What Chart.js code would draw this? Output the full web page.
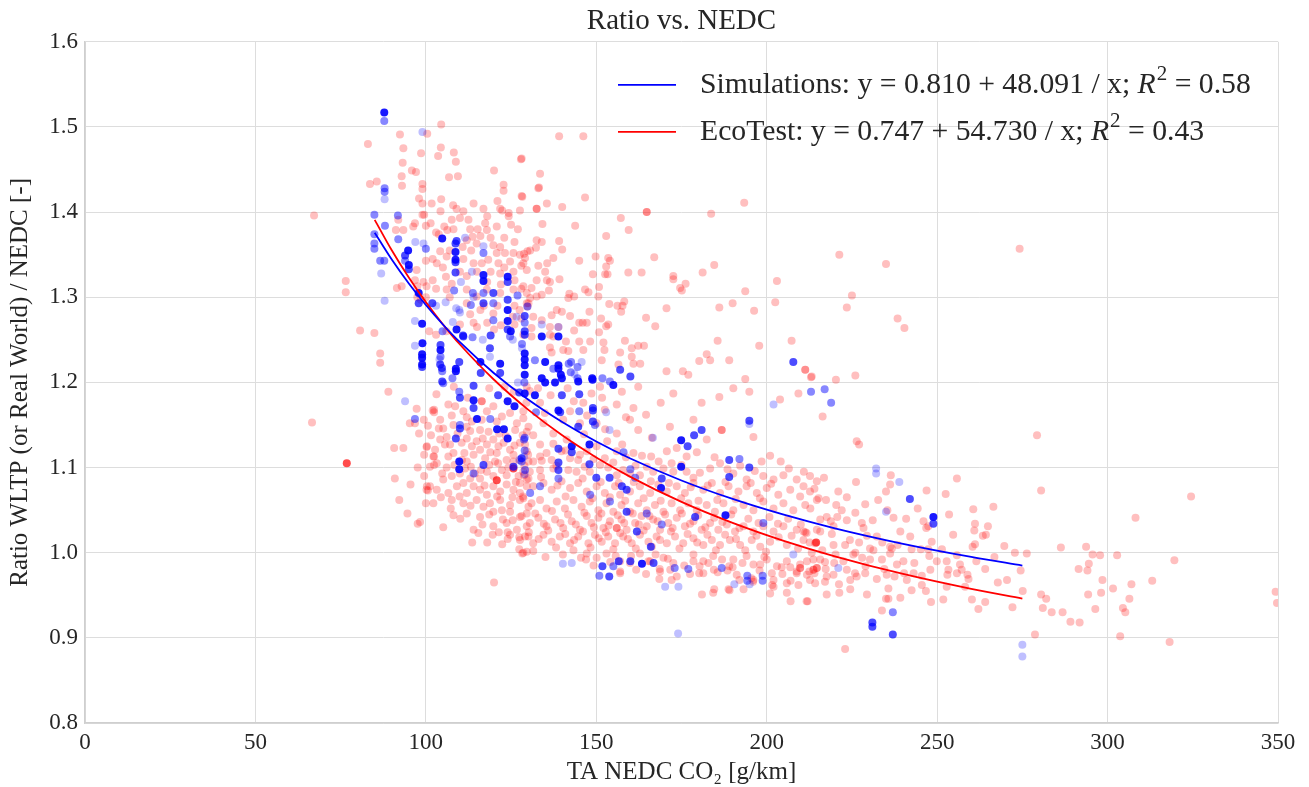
<!DOCTYPE html>
<html><head><meta charset="utf-8">
<script src="https://cdn.jsdelivr.net/npm/chart.js@4.4.1/dist/chart.umd.min.js"></script>
<style>html,body{margin:0;padding:0;background:#fff}canvas{display:block}</style>
</head><body>
<canvas id="c" width="1309" height="787"></canvas>
<script>
const titleText = 'Ratio vs. NEDC';
const xTitle = 'TA NEDC CO\u2082 [g/km]';
const yTitle = 'Ratio WLTP (or Real World) / NEDC [-]';
const xTicks = [0, 50, 100, 150, 200, 250, 300, 350];
const yTicks = [0.8, 0.9, 1.0, 1.1, 1.2, 1.3, 1.4, 1.5, 1.6];

// fitted curves
const fitX    = [85, 90, 95, 100, 105, 110, 120, 130, 140, 150, 160, 175, 190, 205, 220, 240, 260, 275];
const simFitY = [1.3758, 1.3443, 1.3162, 1.2909, 1.2680, 1.2472, 1.2108, 1.1799, 1.1535, 1.1306, 1.1106, 1.0848, 1.0631, 1.0446, 1.0286, 1.0104, 0.9950, 0.9849];
const ecoFitY = [1.3909, 1.3551, 1.3231, 1.2943, 1.2682, 1.2445, 1.2031, 1.1680, 1.1379, 1.1119, 1.0891, 1.0597, 1.0351, 1.0140, 0.9958, 0.9750, 0.9575, 0.9460];

const legendItems = [
  { pre: 'Simulations: y = 0.810 + 48.091 / x; ', r2: '0.58', color: '#0000ff' },
  { pre: 'EcoTest: y = 0.747 + 54.730 / x; ', r2: '0.43', color: '#ff0000' }
];

// Simulations: [x, y, number of overlapping cars]
const simPoints = [
[87.8,1.517,4],[87.8,1.507,2],[99,1.494,1],
[84.9,1.397,2],[91.8,1.396,2],[87.9,1.428,2],[87.9,1.424,2],[87.9,1.415,1],[88,1.384,2],[84.9,1.374,2],[84.9,1.363,2],[84.9,1.357,2],[91.9,1.368,2],[94.8,1.355,4],[93.9,1.349,3],[93.9,1.343,2],[95,1.338,4],[95,1.333,3],[86.6,1.343,2],[86.9,1.328,1],[87.8,1.343,2],[96.9,1.365,1],[99.3,1.363,1],[100,1.357,2],[104.8,1.369,4],[109,1.366,3],[108.7,1.363,3],[108.7,1.353,4],[108.7,1.344,4],[108.7,1.341,3],[108.7,1.329,3],[111.5,1.37,1],[113.5,1.33,1],[116.9,1.36,1],[116.9,1.352,2],[116.9,1.326,4],[116.9,1.319,4],[116.9,1.305,2],[116.9,1.293,3],[113.8,1.305,2],[113.2,1.291,2],[110.3,1.318,1],[108.3,1.308,2],[108.9,1.287,1],[110,1.282,1],[124,1.324,4],[124,1.318,3],[124,1.297,3],[124,1.285,4],[124,1.272,4],[124,1.262,3],[124.7,1.254,2],[119.8,1.305,3],[119.8,1.293,2],[119.8,1.273,2],[126.9,1.302,2],[129.8,1.289,2],[126.6,1.277,1],[97.9,1.305,4],[97.9,1.293,3],[98.9,1.269,4],[101.9,1.293,3],[103,1.29,1],[104.9,1.26,2],[107.9,1.271,1],[109.8,1.285,1],[111,1.254,3],[114,1.30,1],[96.8,1.272,1],[87.9,1.296,1],[105.8,1.294,1],
[99,1.246,4],[96.8,1.243,1],[98.9,1.233,4],[98.9,1.229,4],[98.9,1.221,4],[98.9,1.218,3],[104.3,1.244,3],[104.3,1.238,4],[104.3,1.23,2],[104.2,1.221,3],[104.7,1.217,3],[104.8,1.213,2],[104,1.227,1],[104.8,1.201,3],[105.1,1.199,2],[107.8,1.205,2],[108.8,1.216,4],[108.8,1.213,4],[109.8,1.224,3],[109,1.262,4],[110.9,1.255,3],[113.7,1.253,2],[116.7,1.25,1],[119,1.255,3],[116,1.224,4],[116.1,1.211,3],[118.8,1.24,3],[118.8,1.23,1],[121.8,1.222,4],[121.8,1.211,3],[124.9,1.26,4],[125.5,1.25,1],[128.2,1.245,2],[128.2,1.24,1],[127,1.2,1],[128.9,1.2,2],[127.4,1.188,3],[109.8,1.189,2],[110,1.182,3],[114,1.196,3],[114,1.179,4],[114,1.17,3],[121.2,1.185,3],[124,1.178,4],[126,1.172,4],[115,1.157,4],[110,1.146,3],[110,1.15,2],[118.9,1.157,2],[120.9,1.145,4],[122.9,1.145,4],[124,1.134,4],[108.8,1.134,3],[109.8,1.107,4],[109.8,1.098,4],[116.9,1.103,3],[114,1.093,2],[93.9,1.178,1],[96.8,1.157,2],[125.7,1.101,3],[127.4,1.109,1],[129,1.135,2],[129,1.12,2],[129,1.092,1],
[129,1.278,3],[129,1.27,2],[129,1.26,3],[129,1.256,3],[134,1.254,4],[138.9,1.254,4],[138.9,1.265,1],[134,1.268,1],[129,1.234,4],[129,1.227,4],[129,1.22,4],[129,1.209,4],[132,1.226,2],[135,1.224,4],[138.9,1.22,4],[138.9,1.216,4],[137.4,1.216,2],[139.6,1.209,4],[141.9,1.222,2],[142.6,1.224,2],[144.5,1.218,2],[145.7,1.224,1],[142.5,1.212,2],[143.6,1.21,1],[134,1.205,4],[139.9,1.205,4],[144.5,1.205,2],[148.8,1.205,4],[151.8,1.205,2],[157,1.215,3],[160,1.207,3],
[135,1.2,4],[137.9,1.2,4],[144.7,1.201,4],[148.9,1.203,4],[154,1.201,2],[155,1.197,4],[129,1.187,4],[132,1.185,4],[139.9,1.185,3],[145,1.186,3],[138.9,1.167,4],[139.4,1.165,3],[149,1.17,3],[149,1.167,3],[132.3,1.165,2],[145,1.166,2],[149,1.154,3],[149.6,1.15,2],[144.7,1.148,3],[152.9,1.165,1],[153.9,1.144,1],[142.8,1.125,4],[142.8,1.118,3],[138.9,1.122,3],[148,1.127,4],[128.1,1.111,3],[128.8,1.133,2],[128.1,1.107,2],[138.9,1.106,3],[138.9,1.097,3],[138.9,1.087,2],[148,1.104,3],[150,1.088,3],[153.9,1.088,3],[157.5,1.078,3],[158.9,1.074,3],[158,1.118,2],[160,1.098,2],[161.4,1.088,2],[166.6,1.135,1],[174.9,1.132,4],[176.8,1.125,3],[174.9,1.101,4],[169.2,1.087,3],[169,1.076,4],[178.7,1.138,3],[180.9,1.144,3],[194.9,1.155,3],[194.9,1.151,1],[189,1.109,3],[192,1.11,2],[194.9,1.1,3],[189,1.089,3],[187.9,1.044,4],[179,1.042,3],[199,1.035,2],[202,1.174,1],[154,1.06,2],[158.9,1.048,3],[161.9,1.025,3],[164.8,1.046,2],[169.2,1.033,2],[166,1.007,3],[166.8,0.988,3],[160,0.99,3],[155,0.984,2],[153.8,0.972,3],[142.8,0.988,1],[174.1,0.96,1],[177,0.981,2],[186.8,0.982,2],[195,0.963,1],[198.8,0.973,2],[198.8,0.967,2],[207.8,0.998,1],[148.2,1.068,2],[133.5,1.078,2],[128.8,1.113,1],[129.1,1.097,2],[130.6,1.07,2],
[213,1.189,2],[217,1.192,2],[218.9,1.176,2],[232.1,1.099,1],[232.1,1.093,1],[238.9,1.083,1],[242,1.063,3],[235,1.048,1],[248.9,1.042,4],[248.9,1.034,3],[221,0.982,1],[237,0.93,2],[231,0.918,3],[231,0.913,3],[237,0.904,3],[275,0.892,1],[275,0.878,1],[207.8,1.224,3],
[140.2,0.987,1],[150.9,0.973,2],[151.8,0.984,3],[156.6,0.99,3],[163.4,0.987,4],[173,0.982,2],[170.2,0.96,1],[174,0.905,1],[190.5,0.963,1],[194.3,0.973,2],[194.3,0.967,2]
];

// EcoTest, low NEDC values (x below ~130)
const ecoLeft = [
[104.5,1.503],[100.4,1.492],[92.4,1.491],[83,1.48],[93.4,1.475],[104.4,1.476],[103.6,1.466],[108.2,1.47],[108.8,1.459],[93.2,1.458],[98.6,1.469],[95.9,1.449],[97.1,1.447],[92.9,1.442],[93,1.431],[83.6,1.433],[85.6,1.436],[99,1.433],[99,1.427],[106.8,1.441],[109.4,1.442],[98,1.416],[104.5,1.415],[99,1.41],[99,1.397],[101.7,1.41],[108,1.408],[109,1.404],[104.3,1.401],[67.2,1.396],[120,1.449],[127.9,1.462],[122.8,1.432],[122.8,1.425],[128.3,1.418],[121,1.413],[121.8,1.404],[122.4,1.402],[124.3,1.399],[124.3,1.395],[127.6,1.402],[116.9,1.404],
[96.8,1.387],[96.3,1.383],[99.5,1.397],[100,1.384],[91.9,1.391],[91.2,1.379],[93.4,1.379],[101.4,1.387],[103,1.376],[103.8,1.374],[105.4,1.383],[106.3,1.379],[108.1,1.38],[107.6,1.391],[110,1.393],[112.5,1.391],[113,1.38],[115.2,1.38],[117.4,1.387],[117.9,1.379],[120.8,1.383],[113.7,1.371],[112,1.367],[110.8,1.359],[113.3,1.355],[114.9,1.363],[119.8,1.361],[121.8,1.359],[120.8,1.352],[123.2,1.352],[125.7,1.352],[127.6,1.35],[129.8,1.354],[116.4,1.34],[118.3,1.344],[121.3,1.34],[124.7,1.342],[128.6,1.34],[121.8,1.328],[125.7,1.33],[129.6,1.332],[104.2,1.354],[106.1,1.348],[103.2,1.34],[97.3,1.332],[96.8,1.32],[99.3,1.318],[100.2,1.313],[97.5,1.313],[91.5,1.311],[92.9,1.313],[105.9,1.324],[107.6,1.316],[106.1,1.309],[112,1.309],[114.9,1.301],[117.9,1.309],[121.8,1.305],[125.7,1.309],[129.6,1.305],[129.6,1.293],[112,1.293],[116,1.285],[119.8,1.281],[125.5,1.277],[127.5,1.285],[110,1.268],[114,1.27],[118,1.27],[122,1.267],[126,1.268],[76.5,1.319],[76.5,1.306],[97.5,1.30],[98.5,1.297],[101,1.26],[103,1.256],[106,1.26],
[118,1.318],[122,1.315],[126,1.32],[128,1.31],[115,1.33],[119,1.33],[123,1.335],[111,1.345],[114,1.34],[112,1.325],[117,1.29],[121,1.29],[126,1.29],[128,1.275],[113,1.28],[115,1.265],[120,1.262],[107,1.30],[103,1.31],[100,1.30],[102,1.32],[105,1.335],[102,1.345],[100,1.343],[107,1.355],[110,1.33],[123,1.37],[126,1.365],[127,1.38],[125,1.385],[119,1.37],[116,1.372],[118,1.395],[111,1.401],[114,1.41],
[80.7,1.261],[84.9,1.258],[86.6,1.234],[86.6,1.223],[89,1.189],[66.6,1.153],[76.8,1.105,3],[97.3,1.169],[102,1.167],[102.4,1.165],[95.3,1.152],[96.8,1.152],[98,1.14],[99.4,1.156],[100.6,1.149],[90.7,1.123],[93.4,1.123],[100.2,1.124],[99.5,1.115],[102.4,1.113],[102.4,1.103],[90.9,1.087],[100.3,1.078],[100.6,1.073],[92.2,1.062],[100,1.058],[94.6,1.046],[98.3,1.036],[97.6,1.034],[115.4,1.023],[119.6,1.021],[124,1.024],[124,1.016],[127.4,1.018],[127.4,1.004],[128.3,0.999],[120,0.965],
[102.4,1.168],[104.2,1.156],[105.1,1.146],[106.6,1.174],[107.6,1.161],[108.6,1.172],[111,1.166],[112,1.159],[113.5,1.154],[112,1.148],[116.4,1.178,2],[116.4,1.156],[117.9,1.166],[119.8,1.172],[120.8,1.154],[122.3,1.16],[124.7,1.164],[126.7,1.152],[128.6,1.158],[130.1,1.148],[115.9,1.144],[118.4,1.142],[126.2,1.144],[108.1,1.15],
[100.3,1.125],[102.2,1.113],[102.7,1.121],[104.2,1.133],[106.1,1.136],[107.1,1.127],[106.6,1.113],[108.1,1.117],[110.5,1.129],[112,1.134],[113.5,1.125],[114.9,1.131],[115.9,1.121],[114,1.115],[117.9,1.127],[119.8,1.133],[120.8,1.117],[121.3,1.125],[122.8,1.129],[124.7,1.121],[125.7,1.115],[127.6,1.129],[129.6,1.119],[117.4,1.111],[120.3,1.107],[123.7,1.109],[125.7,1.107],[127.6,1.109],[130.1,1.107],[112,1.107],
[101.2,1.101],[103.2,1.105],[106.1,1.1],[107.6,1.09],[110,1.093],[111.5,1.099],[113,1.087],[114.4,1.093],[115.9,1.087],[117.9,1.095],[119.8,1.09],[120.8,1.085,3],[122.3,1.097],[123.7,1.091],[125.7,1.099,3],[127.2,1.09],[128.6,1.095],[130.1,1.087],[101.2,1.078],[103.2,1.074],[105.1,1.086],[106.6,1.07],[109.1,1.078],[111,1.082],[112,1.07],[114,1.078],[115.9,1.074],[117.9,1.068],[119.8,1.078],[121.8,1.072],[123.7,1.08],[125.7,1.074],[127.6,1.07],[129.6,1.078],[100.2,1.074],
[102.2,1.058],[107.6,1.062],[111,1.058],[114.9,1.062],[116.9,1.054],[118.8,1.058],[121.8,1.062],[124.7,1.056],[127.6,1.062],[130.1,1.054],[108.1,1.044],[112,1.046],[115.9,1.042],[119.8,1.048],[122.3,1.05],[124.7,1.048],[127.6,1.042],[129.6,1.046],[114,1.027],[119.8,1.031],[123.7,1.035],[126.7,1.027],[129.6,1.031],[124.7,1.021],[127.6,1.015],[130.1,1.019],[129.6,1.001],
[101.5,1.138],[103.8,1.146],[105.6,1.127],[109.3,1.14],[111.3,1.117],[113,1.143],[116.7,1.134],[118.9,1.118],[121.5,1.14],[123.5,1.137],[126,1.126],[128.4,1.138],[104.8,1.093],[108.4,1.103],[110.6,1.109],[113.2,1.101],[116.2,1.097],[118.6,1.103],[121.2,1.105],[124.2,1.1],[126.4,1.083],[128.9,1.102],[104.4,1.065],[107.3,1.052],[109.9,1.066],[113.1,1.055],[117.2,1.079],[118.6,1.045],[120.9,1.066],[122.6,1.039],[125.4,1.065],[128.5,1.066],[110.1,1.04],[116.6,1.033],[121.4,1.024],[125.5,1.038],[113.6,1.012],[118,1.012],[122.4,1.01],[105.1,1.03],[99.5,1.09],[97.6,1.1],[95.5,1.08],[103.1,1.186],[108.2,1.195],[112.3,1.182],[118.6,1.193],[123.1,1.195],[125.8,1.189],[130.5,1.19],[129.5,1.176]
];

// EcoTest, upper part of the cloud (x ~128-215, y above ~1.2)
const ecoUpper = [
[139.1,1.489],[146.2,1.489],[128.1,1.463],[133.5,1.445],[133.2,1.429],
[133,1.428],[146.7,1.417],[128.1,1.419],[135.5,1.41],[132.5,1.404,2],[140,1.406],[164.8,1.4,2],[193.4,1.411],[183.7,1.398],[157.2,1.393],[134.2,1.386],[143.8,1.384],[159.5,1.379],[152.9,1.372],[132.5,1.367],[134,1.365],[139.1,1.366],[140,1.356],[132.3,1.358],[130.6,1.355],[128.8,1.351],[129.1,1.346],[137.4,1.346],[145,1.343],[149.8,1.348],[153.5,1.346],[154,1.343],[167,1.347],[184.6,1.338],[133,1.337],[135.6,1.34],[128,1.337],[132.5,1.32],[135,1.33],[152.9,1.336],[152.6,1.327],[153.3,1.327],[149,1.327],[159.4,1.329],[163.3,1.329],[172.6,1.325],[172.6,1.321],[181.2,1.329],[176.2,1.316],[174.6,1.311],[175.1,1.308],[203,1.319],[193.7,1.307],[135.5,1.32],[136.4,1.318],[139.2,1.321],[128.6,1.313],[131,1.311],[136.1,1.308],[146.7,1.309],[147.7,1.306],[150.8,1.312],[134,1.303],[132.5,1.301],[130.6,1.299],[130.1,1.293],[129.8,1.289],[142.1,1.304],[143.5,1.301],[141.8,1.299],[150.6,1.301],[158.2,1.295],[157.7,1.29],[156.2,1.29],[157.3,1.283],[153.8,1.292],[170.6,1.287],[186.1,1.288],[190,1.293],[196.3,1.284],[202.5,1.294],[138.4,1.285],[139.9,1.283],[136.9,1.279],[142.3,1.278],[148,1.283],[131.5,1.277],[134,1.273],[151.4,1.275],[145,1.27],[146,1.27],[147.2,1.27],[153.5,1.268],[152.9,1.266],[164.6,1.276],[167.3,1.266],[131,1.264],[136.4,1.265],[138.9,1.265],[143.5,1.261],[150.8,1.259],[128.6,1.256],[131,1.254],[136.4,1.256],[137.4,1.254],[141.1,1.248],[145,1.248],[148.2,1.248],[152.1,1.247],[158.4,1.249],[160.4,1.24],[162.3,1.243],[164,1.243],[185.6,1.249],[197.8,1.243],[207.3,1.249],[136.4,1.241],[136.9,1.235],[140.3,1.238],[141.8,1.237],[146.2,1.238],[152.4,1.238],[157,1.235],[160.4,1.23],[160.9,1.222],[162.9,1.222],[182.4,1.233],[183.4,1.226],[180.2,1.225],[189,1.226],[151.6,1.226],[156.5,1.221],[170.6,1.213],[175.4,1.213],[177,1.209],[211.3,1.215],[213.2,1.207],[193.7,1.204]
];

// EcoTest, dense band (x ~128-215, y below ~1.2)
const ecoBand = [
[148.6,1.187],[156,1.174],[158.7,1.159],[162.3,1.195],[172.6,1.187],[180.9,1.176],[186.1,1.183],[190.2,1.193],[194.9,1.189],[209.3,1.187],[128.6,1.166],[134.9,1.164],[142.3,1.166],[146.2,1.176],[152.5,1.168],[133.5,1.176],[129.6,1.195],[151.1,1.195],[203.9,1.18],
[162.3,1.144],[166.3,1.135],[186.8,1.144,2],[153.2,1.131],[129.6,1.142],[131.5,1.138],[133.5,1.127],[129.1,1.127],[137.4,1.14],[141.3,1.133],[150.1,1.152],[156,1.14],[159.9,1.156],[170.7,1.119],[173.6,1.123],[171.6,1.148],[178.5,1.156],[182.4,1.133],[196.1,1.136],[201,1.114],[145.2,1.152],[134.5,1.152],[140.3,1.156],
[176.5,1.113],[172.1,1.105],[166.1,1.113],[156,1.119],[160.9,1.117],[158.7,1.112],[204.1,1.107],[198.5,1.107],[192.2,1.102],[186.3,1.105],[183.4,1.099],[180.4,1.094],[190.2,1.093],[194.1,1.086],[130,1.115],[133.5,1.113],[135.4,1.117],[136.9,1.109],[131.5,1.107],[142.3,1.111],[139.8,1.119],[145.2,1.115],[147.2,1.119],[150.1,1.125],[152.5,1.111],[144.7,1.109],[137.4,1.099],[133.5,1.097],[130.5,1.095],[128.8,1.091],[141.8,1.097],[144.2,1.095],[148.1,1.095],[151.1,1.103],[153.5,1.1],[156,1.091],[157.9,1.097],[159.9,1.093],[162.8,1.091],[164.8,1.101],[166.7,1.095],[169.7,1.099],[172.6,1.095],[176.5,1.095],[178.5,1.088],[199,1.09],[202,1.086],[204.9,1.091],[208.8,1.086],[212.7,1.09],[214.7,1.084],[210.8,1.078],
[127.6,1.082],[129.6,1.086],[131.5,1.078],[134.5,1.082],[136.9,1.074],[139.8,1.084],[142.3,1.076],[144.7,1.082],[147.2,1.072],[150.1,1.078],[152.5,1.07],[155.5,1.078],[157,1.068],[159.9,1.072],[162.8,1.078],[165.8,1.07],[168.2,1.08],[170.7,1.072],[173.6,1.078],[176,1.07],[178.5,1.082],[181.4,1.074],[183.9,1.082],[186.3,1.07],[188.8,1.078],[191.7,1.072],[194.1,1.078],[197.1,1.07],[200,1.076],[203.4,1.068],[206.9,1.074],[209.8,1.066],[212.7,1.072],[214.7,1.062],
[128.6,1.064],[131,1.058],[133.5,1.062],[135.4,1.052],[138.4,1.06],[140.8,1.052],[143.3,1.062],[145.7,1.054],[148.1,1.06],[150.6,1.05],[153,1.058],[155,1.048],[157.4,1.056],[159.9,1.048],[162.3,1.058],[164.8,1.05],[167.2,1.056],[169.7,1.048],[172.1,1.058],[174.6,1.05],[177,1.058],[179.5,1.05],[182.4,1.056],[184.8,1.048],[187.3,1.058],[190.2,1.05],[193.2,1.056],[196.1,1.05],[199,1.06],[202,1.052],[204.9,1.058],[207.8,1.05],[211.3,1.056],
[128.1,1.043],[130.5,1.035],[133,1.041],[135.4,1.031],[137.9,1.039],[140.3,1.029],[142.8,1.037],[145.2,1.027],[147.2,1.043],[148.6,1.035],[150.6,1.041],[152.1,1.029],[154,1.037],[156,1.029,2],[157.4,1.039],[158.9,1.027],[161.4,1.035],[163.3,1.043],[164.8,1.031],[166.7,1.039],[168.7,1.027],[171.1,1.035],[173.6,1.041],[176,1.031],[178.5,1.037],[180.9,1.027],[183.4,1.035],[185.8,1.027],[188.3,1.033],[190.7,1.025],[193.2,1.031],[196.1,1.025],[199,1.031],[202,1.025],[204.9,1.031],[208.8,1.027],[211.7,1.023],[214.7,1.027],
[129.1,1.019],[131.5,1.011],[134.5,1.021],[136.9,1.013],[139.3,1.019],[142.3,1.011],[144.7,1.019],[147.7,1.011],[149.6,1.021],[151.6,1.013],[153.5,1.019],[155.5,1.011],[157.9,1.019],[160.4,1.011],[162.8,1.021],[165.3,1.013],[167.7,1.019],[170.7,1.011],[173.1,1.019],[175.5,1.011],[178.5,1.017],[181.4,1.009],[183.9,1.015],[186.3,1.009],[189.2,1.015],[192.2,1.009],[195.6,1.015],[198.1,1.007],[201,1.013],[205.9,1.009],[210.8,1.015],
[128.6,1.0],[131.5,1.002],[143.3,1.003],[147.2,0.999],[150.1,0.994],[153,0.999],[157,0.99],[162.8,0.999],[165.3,0.99],[169.7,0.994],[172.6,0.988],[178.5,0.998],[181.4,0.99],[184.3,0.996],[190.2,0.992],[194.1,0.996],[196.1,0.986],[200,0.992],[203,0.984],[205.9,0.99],[209.8,0.986],[213.7,0.992],[157,0.976],[168.7,0.978],[173.6,0.972],[181.4,0.976],[191.2,0.974],[201.5,0.976],[208.8,0.978],[213.7,0.98,2],
[172.1,0.968],[184.3,0.953],[188.8,0.957],[193.2,0.957],[196.1,0.968],[202,0.96],[205.9,0.964],[205.9,0.953],[211.7,0.943],[212.7,0.968],
[157,0.978],[161.7,0.98],[164.6,0.975],[168.5,0.969],[168.6,0.981],[181,0.951],[184.6,0.957],[189.1,0.956],[177.5,0.975],[180.2,0.976],[184.5,0.98],[185.6,0.977],[189,0.984],[190,0.983],[192,0.968],[195.5,0.97],[196,0.966],[201,0.952],[201.6,0.962],[202,0.968],[204.4,0.983],[207,0.943],[207,0.967],[208.8,0.976],[209.3,0.962],
[154.1,0.989],[159.9,0.988],[165.8,0.99],[171.7,0.98],[178.5,0.99],[182.9,0.988],[198.1,0.986],[209.8,0.982,2],[147,0.992],
[133.8,1.089],[138.6,1.079],[141,1.066],[146,1.087],[148.9,1.064],[151.3,1.083],[154,1.065],[156.6,1.082],[158.5,1.061],[161,1.083],[163.9,1.064],[166,1.084],[168.9,1.061],[171.3,1.082],[174.9,1.064],[177.7,1.077],[180,1.061],[182.7,1.079],[185.5,1.062],[187.9,1.083],[190.9,1.063],[195.3,1.082],[198,1.064],[201.3,1.081],
[132.1,1.046],[134.6,1.034],[137,1.049],[139.5,1.035],[141.7,1.045],[144,1.033],[146.5,1.047],[149.3,1.03],[151.5,1.046],[153.6,1.032],[156.3,1.044],[158.2,1.035],[160.7,1.046],[162.5,1.033],[165.6,1.043],[168,1.037],[170.2,1.045],[172.4,1.029],[175.1,1.046],[177.5,1.034],[179.9,1.044],[182,1.03],[184.6,1.041],[187,1.036],[189.6,1.045],[192,1.029],[194.6,1.04],[197.6,1.035],[200.8,1.042],[203.3,1.034],[206.3,1.04],[210,1.033],
[130.2,1.024],[133.1,1.016],[135.9,1.026],[138.2,1.006],[140.9,1.022],[143.5,1.015],[146.1,1.025],[148.3,1.006],[150.7,1.017],[152.8,1.024],[155,1.004],[157,1.023],[159.3,1.016],[161.6,1.005],[163.9,1.026],[166.3,1.007],[168.7,1.015],[171.9,1.025],[174.4,1.005],[176.8,1.022],[179.6,1.012],[182.6,1.021],[185.1,1.003],[187.8,1.021],[191,1.016],[193.7,1.003],[197,1.02],[199.8,1.001],[203.5,1.018],[207.3,1.02],[209.2,1.005],[212.6,1.012],
[135.1,0.995],[140.2,0.998],[145.5,0.994],[149.2,0.985],[155.7,0.996],[160.2,0.996],[167.4,0.998],[171,0.993],[175.8,0.985],[180.3,0.984],[186.9,0.992],[188.5,0.979],[192.9,0.988],[197.9,0.979],[199.3,0.995],[204.6,0.975],[206.9,0.983],[211.8,0.974],
[134,1.108],[138.3,1.102],[141,1.12],[146.6,1.101],[149.2,1.11],[155,1.106],[161.5,1.102],[163.4,1.114],[168.3,1.107],[175,1.103],[179.5,1.118],[184.7,1.112],[188.5,1.098],[196.5,1.096],[206.5,1.099],[210.9,1.095],
[132.9,1.193],[136.6,1.185],[141.6,1.193],[143.4,1.178],[147.3,1.161],[151.7,1.182],[157.5,1.189],[160.9,1.17],[164.6,1.162],[168.9,1.176],[137.4,1.128],[146.4,1.139],[152.6,1.145],[157.6,1.127]
];

// EcoTest, high NEDC values (x above ~210)
const ecoRight = [
[221.3,1.35],[235,1.339],[225,1.302],[223.5,1.288],[238.4,1.275],[240.4,1.264],[274.2,1.357],[211.3,1.215],[213,1.206],[220.3,1.203],[226,1.208],
[216.4,1.16],[226.4,1.131],[227.1,1.127],[279.3,1.138],[216.8,1.088],[236.4,1.091],[236.2,1.08],[255.8,1.087],[214,1.075],[235,1.072],[226.2,1.083],[221,1.072],[223.5,1.065],[215.2,1.064],[217.4,1.062],[212.8,1.052],[220.4,1.056],[222,1.05],[228.9,1.057],[246.9,1.073],[252.5,1.069],[280.5,1.073],[266.5,1.054],[260.6,1.051],[324.5,1.066],[308.2,1.041],[217.6,1.042],[220.7,1.042],[218.8,1.037],[223.5,1.038],[227.9,1.035],[228.4,1.029],[231.1,1.038],[235.4,1.05],[237.2,1.041],[246,1.037],[246.8,1.029],[247.4,1.031],[253.5,1.045],[261.1,1.034],[260.9,1.026],[264.9,1.031],[263.4,1.02],[264.3,1.021],[254.7,1.021],[260.4,1.007],[261.1,1.01],[269.7,1.008],[272.8,1.0],[276.3,0.999],[286.3,1.006],[293.7,1.007],[295.6,0.998],[297.8,0.997],[302.8,0.997],[211.3,1.024],[215.7,1.025],[219.1,1.022],[214.5,1.012,3],[213.2,1.0],[217.1,0.989],[219.8,0.988],[222.5,0.99],[225.4,0.998],[228,0.994],[230.3,1.005],[231.3,1.003],[233.8,0.992],[236.2,0.999],[236.7,1.005],[240.1,0.99],[242.5,1.004],[245.2,1.004],[247.4,1.004],[248.4,1.013],[247.7,0.996],[214.7,0.982,2],[212.5,0.978],[214,0.976],[223.5,0.98],[225.9,0.976],[226.4,0.972],[228.9,0.976],[232.3,0.969],[235.2,0.974],[237.5,0.972],[240.3,0.976],[245.5,0.973],[242.5,0.956],[245.5,0.962],[252.8,0.99],[253.3,0.98],[253,0.974],[256.7,0.986],[257.2,0.98],[258.9,0.974],[259.2,0.969],[255.8,0.976],[264.1,0.981],[252.8,0.96],[251.8,0.945],[248.2,0.942],[260.2,0.945],[262.1,0.934],[264.1,0.942],[270.5,0.968],[272.1,0.936],[275.1,0.955],[274.5,0.979],[280.5,0.951],[282,0.946],[281,0.935],[283.6,0.93],[286.8,0.93],[289.1,0.919],[291.8,0.918],[291.5,0.981],[294.1,0.979],[294.5,0.987],[298.5,0.968],[298.1,0.953],[294.3,0.951],[296.4,0.934],[301.6,0.958],[303.7,0.902],[304.5,0.935],[305.2,0.93],[306.4,0.946],[307,0.963],[313.1,0.967],[319.6,0.991],[318.2,0.895],[349.3,0.954],[349.7,0.941],[278.7,0.904],[223,0.887],[229.4,0.951],[233.8,0.932],[235,0.946],[235.7,0.946],[235.7,0.958],[224.5,0.957],[221.3,0.953],[217.6,0.951],[212,0.943],[214.2,0.964],[217.1,0.966],[219.6,0.974],
[219.6,1.009],[223,1.009],[226,1.0],[230.3,0.992],[215.7,0.992],[211.8,0.99],[217.6,0.972],[224.5,0.968],[241.1,0.968],[243.1,0.976],[248,0.98],[232.3,1.019],[239.2,1.025],[242.1,1.019],[236.2,1.007],[215.7,1.039],[219.6,1.031],[214.2,1.011],[210.8,1.025],
[216.3,1.003],[220.2,0.998],[224.4,1.015],[227.1,1.012],[229.4,1.02],[233.9,1.012],[238.4,1.009],[240.9,1.04],[244.3,1.052],[232.7,1.062],[226,1.047],[229,0.984],[234.5,0.981],[238.2,0.986],[243.3,0.988],[249.9,0.99],[251.4,1.004],[255.8,0.997],[258.2,0.96],[261.5,0.99],[266.8,0.995],[267.8,0.965],[246.7,0.955],[239.2,0.947],[217.3,0.981],[221.2,0.963]
];

const FONT = "'Liberation Serif', 'Times New Roman', 'DejaVu Serif', serif";
const TEXT = '#262626';
const alphaByCount = [0, 0.25, 0.47, 0.7, 0.9];

function toPts(arr) { return arr.map(p => ({ x: p[0], y: p[1], n: p[2] || 1 })); }
function colorFn(rgb) {
  return ctx => {
    const n = (ctx.raw && ctx.raw.n) || 1;
    return 'rgba(' + rgb + ',' + alphaByCount[Math.min(n, 4)] + ')';
  };
}

const fitLegend = {
  id: 'fitLegend',
  afterDraw(chart) {
    const ctx = chart.ctx, a = chart.chartArea;
    const fs = 29.7;
    const rows = [a.top + 43, a.top + 90];
    const x0 = a.left + 533, x1 = a.left + 591, tx = a.left + 615;
    legendItems.forEach((it, i) => {
      const y = rows[i];
      ctx.save();
      ctx.strokeStyle = it.color; ctx.lineWidth = 1.8;
      ctx.beginPath(); ctx.moveTo(x0, y); ctx.lineTo(x1, y); ctx.stroke();
      ctx.fillStyle = TEXT; ctx.textBaseline = 'middle'; ctx.textAlign = 'left';
      let x = tx;
      ctx.font = fs + 'px ' + FONT;
      ctx.fillText(it.pre, x, y); x += ctx.measureText(it.pre).width;
      ctx.font = 'italic ' + fs + 'px ' + FONT;
      ctx.fillText('R', x, y); x += ctx.measureText('R').width + 1;
      ctx.font = Math.round(fs * 0.7) + 'px ' + FONT;
      ctx.fillText('2', x, y - fs * 0.36); x += ctx.measureText('2').width;
      ctx.font = fs + 'px ' + FONT;
      ctx.fillText(' = ' + it.r2, x, y);
      ctx.restore();
    });
  }
};

new Chart(document.getElementById('c'), {
  type: 'scatter',
  data: {
    datasets: [
      { label: 'Simulations fit', type: 'line', data: fitX.map((x, i) => ({ x, y: simFitY[i] })),
        borderColor: '#0000ff', borderWidth: 1.8, pointRadius: 0, fill: false, tension: 0.4, cubicInterpolationMode: 'monotone' },
      { label: 'EcoTest fit', type: 'line', data: fitX.map((x, i) => ({ x, y: ecoFitY[i] })),
        borderColor: '#ff0000', borderWidth: 1.8, pointRadius: 0, fill: false, tension: 0.4, cubicInterpolationMode: 'monotone' },
      { label: 'Simulations', data: toPts(simPoints), pointRadius: 4, borderWidth: 0,
        backgroundColor: colorFn('0,0,255'), pointBackgroundColor: colorFn('0,0,255') },
      { label: 'EcoTest', data: toPts([].concat(ecoLeft, ecoUpper, ecoBand, ecoRight)), pointRadius: 4, borderWidth: 0,
        backgroundColor: colorFn('255,0,0'), pointBackgroundColor: colorFn('255,0,0') }
    ]
  },
  options: {
    responsive: false,
    animation: false,
    events: [],
    layout: { padding: { right: 31, top: 0, left: 0, bottom: 0 } },
    plugins: {
      legend: { display: false },
      tooltip: { enabled: false },
      title: { display: true, fullSize: false, text: titleText, color: TEXT,
        font: { family: FONT, size: 29, weight: 'normal' }, padding: { top: 4, bottom: 3 } }
    },
    scales: {
      x: {
        type: 'linear', min: 0, max: 350,
        afterBuildTicks: s => { s.ticks = xTicks.map(v => ({ value: v })); },
        afterFit: s => { s.height = 64; },
        ticks: { color: TEXT, font: { family: FONT, size: 23 }, padding: 6, maxRotation: 0, autoSkip: false,
          callback: v => String(v) },
        grid: { color: '#dddddd', lineWidth: 1, drawTicks: false },
        border: { color: '#cfcfcf', width: 1.5 },
        title: { display: true, text: xTitle, color: TEXT, font: { family: FONT, size: 25 }, padding: { top: 0, bottom: 0 } }
      },
      y: {
        type: 'linear', min: 0.8, max: 1.6,
        afterBuildTicks: s => { s.ticks = yTicks.map(v => ({ value: v })); },
        afterFit: s => { s.width = 85; },
        ticks: { color: TEXT, font: { family: FONT, size: 23 }, padding: 7, autoSkip: false,
          callback: v => Number(v).toFixed(1) },
        grid: { color: '#dddddd', lineWidth: 1, drawTicks: false },
        border: { color: '#cfcfcf', width: 1.5 },
        title: { display: true, text: yTitle, color: TEXT, font: { family: FONT, size: 25 }, padding: { top: 5, bottom: 0 } }
      }
    }
  },
  plugins: [fitLegend]
});
</script>
</body></html>
